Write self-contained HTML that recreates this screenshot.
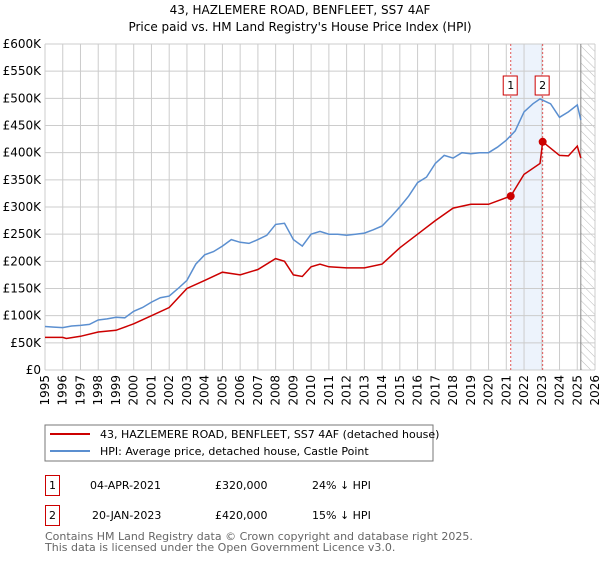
<!DOCTYPE html>
<html><head><meta charset="utf-8"><style>
body{margin:0;background:#fff;font-family:"DejaVu Sans","Liberation Sans",sans-serif;}
svg text{font-family:"DejaVu Sans","Liberation Sans",sans-serif;}
</style></head><body>
<svg id="chart" width="600" height="560" xmlns="http://www.w3.org/2000/svg">
<text x="300" y="14" text-anchor="middle" font-size="12" fill="#000">43, HAZLEMERE ROAD, BENFLEET, SS7 4AF</text>
<text x="300" y="31" text-anchor="middle" font-size="12" fill="#000">Price paid vs. HM Land Registry's House Price Index (HPI)</text>
<defs><pattern id="hatch" width="6" height="6" patternUnits="userSpaceOnUse" patternTransform="rotate(-45)"><line x1="0" y1="0" x2="0" y2="6" stroke="#bbb" stroke-width="1"/></pattern></defs>
<g id="grid"></g><g id="marks"></g><g id="series"></g>
<rect x="45" y="425" width="388" height="36" fill="#fff" stroke="#777"/>
<line x1="50" y1="434" x2="90" y2="434" stroke="#cc0000" stroke-width="2"/>
<text x="100" y="438" font-size="11">43, HAZLEMERE ROAD, BENFLEET, SS7 4AF (detached house)</text>
<line x1="50" y1="451" x2="90" y2="451" stroke="#5b8fd0" stroke-width="2"/>
<text x="100" y="455" font-size="11">HPI: Average price, detached house, Castle Point</text>
<g>
<rect x="45.5" y="475.5" width="14" height="20" fill="none" stroke="#cc0000"/><text x="49" y="489" font-size="11">1</text>
<text x="90" y="489" font-size="11">04-APR-2021</text><text x="215" y="489" font-size="11">£320,000</text><text x="312" y="489" font-size="11">24% ↓ HPI</text></g>
<g>
<rect x="45.5" y="505.5" width="14" height="20" fill="none" stroke="#cc0000"/><text x="49" y="519" font-size="11">2</text>
<text x="92" y="519" font-size="11">20-JAN-2023</text><text x="215" y="519" font-size="11">£420,000</text><text x="312" y="519" font-size="11">15% ↓ HPI</text></g>
<text x="45" y="540" font-size="11" fill="#666">Contains HM Land Registry data © Crown copyright and database right 2025.</text>
<text x="45" y="551" font-size="11" fill="#666">This data is licensed under the Open Government Licence v3.0.</text>
</svg>
<script>
const yTicks=[0,50,100,150,200,250,300,350,400,450,500,550,600];
const yTickLabels=["£0","£50K","£100K","£150K","£200K","£250K","£300K","£350K","£400K","£450K","£500K","£550K","£600K"];
const years=[1995,1996,1997,1998,1999,2000,2001,2002,2003,2004,2005,2006,2007,2008,2009,2010,2011,2012,2013,2014,2015,2016,2017,2018,2019,2020,2021,2022,2023,2024,2025,2026];
const hpiT=[1995,1995.5,1996,1996.5,1997,1997.5,1998,1998.5,1999,1999.5,2000,2000.5,2001,2001.5,2002,2002.5,2003,2003.5,2004,2004.5,2005,2005.5,2006,2006.5,2007,2007.5,2008,2008.5,2009,2009.5,2010,2010.5,2011,2011.5,2012,2012.5,2013,2013.5,2014,2014.5,2015,2015.5,2016,2016.5,2017,2017.5,2018,2018.5,2019,2019.5,2020,2020.5,2021,2021.5,2022,2022.5,2022.9,2023.5,2024,2024.5,2025,2025.2];
const hpiV=[80,79,78,81,82,84,92,94,97,96,108,115,125,133,136,150,165,195,212,218,228,240,235,233,240,248,268,270,240,228,250,255,250,250,248,250,252,258,265,282,300,320,345,355,380,395,390,400,398,400,400,410,423,440,475,490,499,490,465,475,488,460];
const priceT=[1995,1996,1996.2,1997,1998,1999,2000,2001,2002,2003,2004,2005,2006,2007,2008,2008.5,2009,2009.5,2010,2010.5,2011,2012,2013,2014,2014.5,2015,2016,2017,2018,2019,2020,2021.25,2022,2022.9,2023.05,2024,2024.5,2025,2025.2];
const priceV=[60,60,58,62,70,73,85,100,115,150,165,180,175,185,205,200,175,172,190,195,190,188,188,195,210,225,250,275,298,305,305,320,360,380,420,395,394,412,390];
const saleT=[2021.25,2023.05];
const saleV=[320,420];
const saleLabels=["1","2"];
const X0=45,X1=595,Y0=370,Y1=44;
const x=t=>X0+(t-1995)*(X1-X0)/31;
const y=v=>Y0-v*(Y0-Y1)/600;
const NS="http://www.w3.org/2000/svg";
function mk(tag,attrs,parent,txt){const e=document.createElementNS(NS,tag);for(const k in attrs)e.setAttribute(k,attrs[k]);if(txt!==undefined)e.textContent=txt;parent.appendChild(e);return e;}
const grid=document.getElementById('grid'),marks=document.getElementById('marks'),series=document.getElementById('series');
// shaded region between sales
let sh=mk('rect',{x:x(saleT[0]),y:Y1,width:x(saleT[1])-x(saleT[0]),height:Y0-Y1,fill:'#edf3fc'},grid);


let ht=mk('rect',{x:x(2025.2),y:Y1,width:X1-x(2025.2),height:Y0-Y1,fill:'url(#hatch)'},grid);


yTicks.forEach((v,i)=>{
 const l=mk('line',{x1:X0,x2:X1,y1:y(v),y2:y(v),stroke:'#ccc','stroke-width':1},grid);
 
 
 const t=mk('text',{x:41,y:y(v)+4,'text-anchor':'end','font-size':12},grid,yTickLabels[i]);
 
 
});
years.forEach(yr=>{
 const l=mk('line',{x1:x(yr),x2:x(yr),y1:Y1,y2:Y0,stroke:'#ccc','stroke-width':1},grid);
 
 
 const t=mk('text',{x:0,y:0,'text-anchor':'end','font-size':12,transform:`translate(${x(yr)+4},375) rotate(-90)`},grid,String(yr));
 
 
});
const nl=mk('line',{x1:x(2025.2),x2:x(2025.2),y1:Y1,y2:Y0,stroke:'#888','stroke-width':1},grid);


saleT.forEach((t,i)=>{
 const l=mk('line',{x1:x(t),x2:x(t),y1:Y1,y2:Y0,stroke:'#e05555','stroke-width':1,'stroke-dasharray':'2,2'},marks);
 
 
 const b=mk('rect',{x:x(t)-7.5,y:76,width:14,height:19,fill:'#fff',stroke:'#cc0000'},marks);
 
 
 const tx=mk('text',{x:x(t),y:89,'text-anchor':'middle','font-size':11},marks,saleLabels[i]);
 
 
});
function path(T,V){return T.map((t,i)=>(i?'L':'M')+x(t).toFixed(1)+','+y(V[i]).toFixed(1)).join('');}
const hp=mk('path',{d:path(hpiT,hpiV),fill:'none',stroke:'#5b8fd0','stroke-width':1.5},series);


const pp=mk('path',{d:path(priceT,priceV),fill:'none',stroke:'#cc0000','stroke-width':1.5},series);


saleT.forEach((t,i)=>{
 const c=mk('circle',{cx:x(t),cy:y(saleV[i]),r:4,fill:'#cc0000'},series);
 
 
});
</script>
</body></html>
